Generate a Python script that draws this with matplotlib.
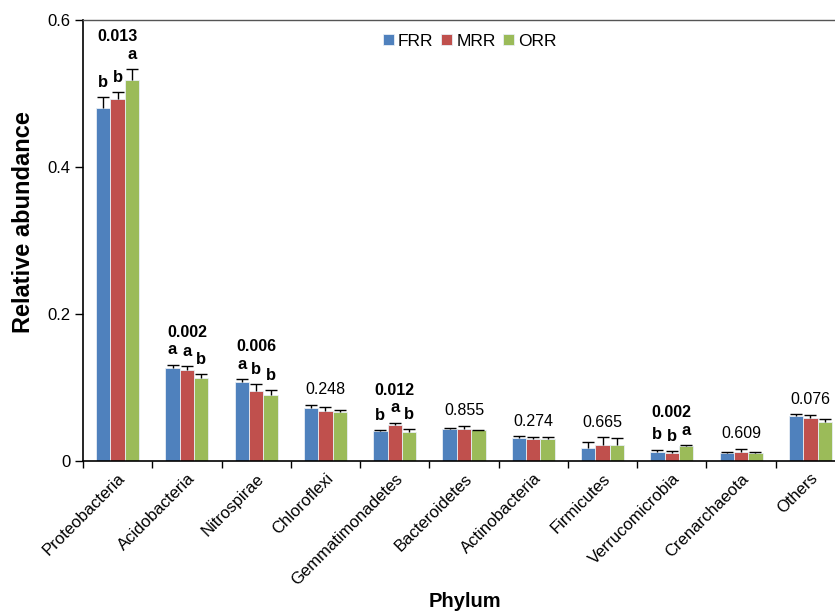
import numpy as np
import matplotlib
matplotlib.use("Agg")
import matplotlib.pyplot as plt

plt.rcParams['font.family'] = ['Liberation Sans', 'DejaVu Sans']

phyla = ["Proteobacteria", "Acidobacteria", "Nitrospirae", "Chloroflexi",
         "Gemmatimonadetes", "Bacteroidetes", "Actinobacteria", "Firmicutes",
         "Verrucomicrobia", "Crenarchaeota", "Others"]
series = ["FRR", "MRR", "ORR"]
frr = [0.480, 0.127, 0.108, 0.0716, 0.041, 0.043, 0.031, 0.0177, 0.0122, 0.0109, 0.0612]
mrr = [0.492, 0.124, 0.0957, 0.0685, 0.0485, 0.043, 0.030, 0.0218, 0.0113, 0.0127, 0.0585]
orr = [0.518, 0.113, 0.090, 0.067, 0.040, 0.0417, 0.030, 0.0213, 0.0209, 0.0104, 0.0535]
frr_err = [0.015, 0.004, 0.0036, 0.005, 0.0012, 0.002, 0.003, 0.0085, 0.003, 0.0014, 0.0023]
mrr_err = [0.0095, 0.005, 0.009, 0.0055, 0.0036, 0.005, 0.002, 0.011, 0.002, 0.004, 0.0045]
orr_err = [0.015, 0.005, 0.0068, 0.003, 0.0035, 0.001, 0.002, 0.010, 0.001, 0.0023, 0.0032]
p_values = ["0.013", "0.002", "0.006", "0.248", "0.012", "0.855", "0.274", "0.665", "0.002", "0.609", "0.076"]
p_significant = [True, True, True, False, True, False, False, False, True, False, False]
letters_frr = ["b", "a", "a", "", "b", "", "", "", "b", "", ""]
letters_mrr = ["b", "a", "b", "", "a", "", "", "", "b", "", ""]
letters_orr = ["a", "b", "b", "", "b", "", "", "", "a", "", ""]

colors = ["#4F81BD", "#C0504D", "#9BBB59"]

W, H = 835, 613
fig = plt.figure(figsize=(W / 100, H / 100), dpi=100)
ax = fig.add_axes([83 / W, 1 - 461 / H, (845 - 83) / W, (461 - 20) / H])

n = len(phyla)
x = np.arange(n) + 0.5
bw = 0.207
vals = [frr, mrr, orr]
errs = [frr_err, mrr_err, orr_err]
letters = [letters_frr, letters_mrr, letters_orr]

for k in range(3):
    xs = x + (k - 1) * bw
    ax.bar(xs, vals[k], width=bw, color=colors[k], edgecolor='#e8eef5', linewidth=0.6,
           label=series[k], zorder=2)
    eb = ax.errorbar(xs, vals[k], yerr=[np.zeros(n), errs[k]], fmt='none', ecolor='black',
                     elinewidth=1.0, capsize=4.5, capthick=1.0, zorder=3)
    caps = eb[1]
    if len(caps) >= 2:
        caps[0].set_visible(False)

for i in range(n):
    tops = [vals[k][i] + errs[k][i] for k in range(3)]
    has_letters = any(letters[k][i] for k in range(3))
    if has_letters:
        ltops = []
        for k in range(3):
            ly = tops[k] + 0.010
            ax.text(x[i] + (k - 1) * bw, ly, letters[k][i], ha='center', va='bottom',
                    fontsize=12, fontweight='bold', color='black')
            ltops.append(ly + 0.018)
        py = max(ltops) + 0.006
    else:
        py = max(tops) + 0.010
    ax.text(x[i], py, p_values[i], ha='center', va='bottom', fontsize=11.5,
            fontweight='bold' if p_significant[i] else 'normal', color='black')

ax.set_xlim(0, n)
ax.set_ylim(0, 0.6)
ax.set_yticks([0, 0.2, 0.4, 0.6])
ax.set_yticklabels(["0", "0.2", "0.4", "0.6"], fontsize=12)
ax.set_xticks(x)
ax.set_xticklabels(phyla, rotation=45, ha='right', va='top', rotation_mode='anchor', fontsize=12)
ax.tick_params(axis='x', which='major', length=0, pad=7)
ax.set_xticks(np.arange(n + 1), minor=True)
ax.tick_params(axis='x', which='minor', length=5, width=1, direction='out')
ax.tick_params(axis='y', length=6, width=1, direction='out', pad=3)

ax.spines['right'].set_visible(False)
ax.spines['top'].set_color('#555555')
ax.spines['top'].set_linewidth(1.0)
for s in ['left', 'bottom']:
    ax.spines[s].set_linewidth(1.2)

leg = ax.legend(loc='upper center', bbox_to_anchor=((470 - 83) / (845 - 83), 0.985), ncol=3,
                frameon=False, fontsize=12.5, handlelength=0.6, handleheight=0.6,
                handletextpad=0.25, columnspacing=0.45, borderaxespad=0)

fig.text(24 / W, 1 - 222 / H, "Relative abundance", rotation=90, ha='center', va='center',
         fontsize=17, fontweight='bold')
fig.text(465 / W, 1 - 607 / H, "Phylum", ha='center', va='baseline',
         fontsize=14.5, fontweight='bold')

fig.savefig("out.png", dpi=100)
